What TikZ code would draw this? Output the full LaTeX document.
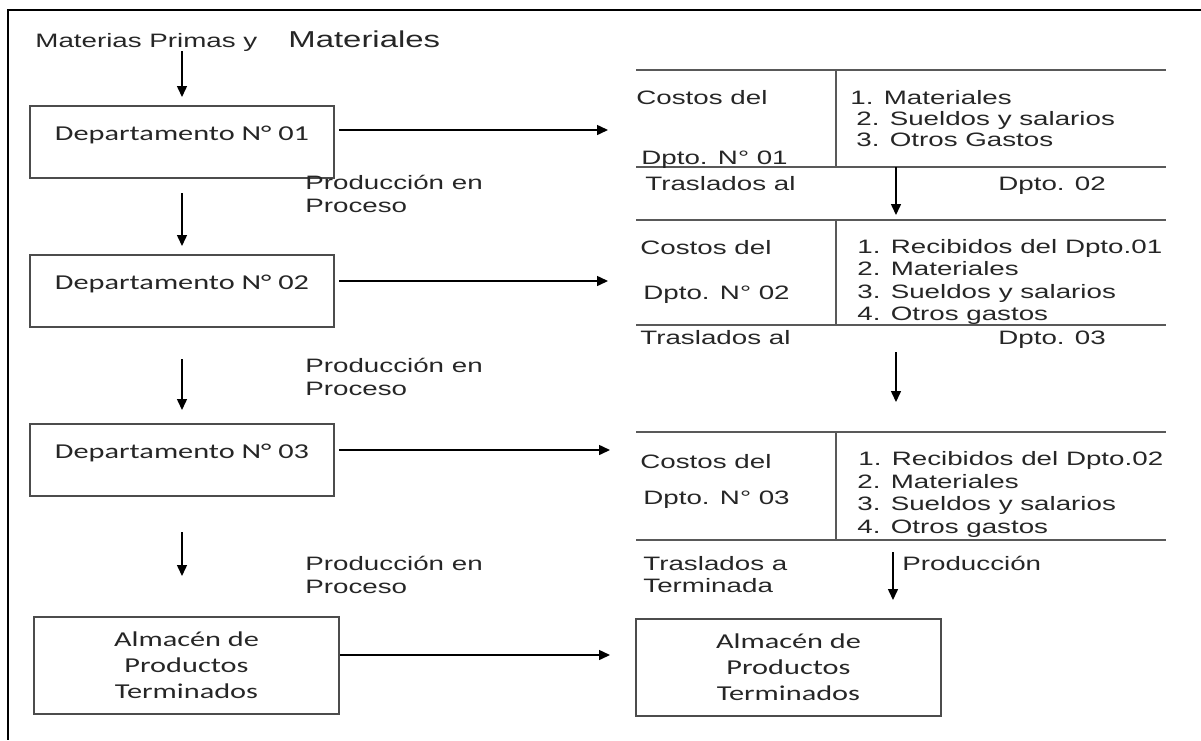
\documentclass[tikz,border=0pt]{standalone}
\usepackage{fontspec}
\setmainfont{Liberation Sans}[FakeStretch=1.43]
\newfontfamily\calfont{Carlito}[FakeStretch=1.43]
\usetikzlibrary{arrows.meta}

\begin{document}
\begin{tikzpicture}[
x = 0.5pt, y = -0.5pt,
every node/.style = {inner sep=0pt, text=black!85, font=\fontsize{9.7}{11.2}\selectfont},
dept/.style = {draw=black!70, line width=1pt, anchor=north, minimum width=152pt,
  text height=17pt, text depth=19pt, font=\calfont\fontsize{10.6}{13}\selectfont},
almacen/.style = {draw=black!70, line width=1pt, minimum width=152.5pt, minimum height=48.5pt,
  align=center, font=\calfont\fontsize{10.6}{13}\selectfont},
txt/.style = {anchor=west, align=left},
flecha/.style = {-{Triangle[length=5.5pt,width=5pt]}, line width=0.75pt},
cuenta/.style = {draw=black!65, line width=1pt}
]
\useasboundingbox (0,0) rectangle (1201,740);
\draw[line width=1pt] (1201,10) -- (8,10) -- (8,740);

\node[anchor=base west] (mp) at (35,47) {Materias Primas y};
\node[anchor=base west, font=\fontsize{11.5}{13}\selectfont] (mat) at (288,47) {Materiales};

\node[dept] (d1) at (182,105) {Departamento N° 01};
\node[dept] (d2) at (182,254) {Departamento N° 02};
\node[dept] (d3) at (182,423) {Departamento N° 03};
\node[almacen] (a1) at (186.5,665.5) {Almacén de\\Productos\\Terminados};
\node[almacen] (a2) at (788.5,667) {Almacén de\\Productos\\Terminados};

\node[txt] (p1) at (305,194) {Producción en\\Proceso};
\node[txt] (p2) at (305,377) {Producción en\\Proceso};
\node[txt] (p3) at (305,575) {Producción en\\Proceso};

\coordinate (e3) at (d3.south |- a1.north);
\draw[flecha] (mp.south -| d1.north) -- ([yshift=4pt]d1.north);
\draw[flecha] ([yshift=-7pt]d1.south) -- ([yshift=4pt]d2.north);
\draw[flecha] ([yshift=-15.5pt]d2.south) -- ([yshift=6.5pt]d3.north);
\draw[flecha] ([yshift=-17.5pt]d3.south) -- ([yshift=20pt]e3);

\coordinate (c1) at (608,130);
\coordinate (c2) at (608,281);
\coordinate (c3) at (610,450);
\coordinate (c4) at (610,655);
\draw[flecha, shorten <=2pt] (d1.east |- c1) -- (c1);
\draw[flecha, shorten <=2pt] (d2.east |- c2) -- (c2);
\draw[flecha, shorten <=2pt] (d3.east |- c3) -- (c3);
\draw[flecha] (a1.east |- c4) -- (c4);

\draw[cuenta] (636,70) -- (1166,70) (636,167) -- (1166,167) (836,70) -- (836,167);
\draw[cuenta] (636,220) -- (1166,220) (636,325) -- (1166,325) (836,220) -- (836,325);
\draw[cuenta] (636,432) -- (1166,432) (636,540) -- (1166,540) (836,432) -- (836,540);

\node[anchor=base west] (cd1) at (636,104) {Costos del};
\node[anchor=base west] (dp1) at (641,164) {Dpto. N° 01};
\node[txt, font=\fontsize{9.7}{10.3}\selectfont] (l1) at (850,118.5)
  {1. Materiales\\\hspace*{3pt}2. Sueldos y salarios\\\hspace*{3pt}3. Otros Gastos};
\node[anchor=base west] (tr1) at (645,190) {Traslados al};
\node[anchor=base west] (dt1) at (998,190) {Dpto. 02};

\node[anchor=base west] (cd2) at (640,254) {Costos del};
\node[anchor=base west] (dp2) at (643,299) {Dpto. N° 02};
\node[txt, font=\fontsize{9.7}{11.3}\selectfont] (l2) at (857,282)
  {1. Recibidos del Dpto.01\\2. Materiales\\3. Sueldos y salarios\\4. Otros gastos};
\node[anchor=base west] (tr2) at (640,344) {Traslados al};
\node[anchor=base west] (dt2) at (998,344) {Dpto. 03};

\node[anchor=base west] (cd3) at (640,468) {Costos del};
\node[anchor=base west] (dp3) at (643,504) {Dpto. N° 03};
\node[txt, font=\fontsize{9.7}{11.2}\selectfont] (l3) at (857,494.5)
  {\hspace*{0.5pt}1. Recibidos del Dpto.02\\2. Materiales\\3. Sueldos y salarios\\4. Otros gastos};
\node[txt] (tr3) at (643,574.5) {Traslados a\\Terminada};
\node[anchor=base west] (pr3) at (902,570) {Producción};

\coordinate (t1) at (896,167);
\coordinate (t2) at (896,215);
\coordinate (t3) at (896,352);
\coordinate (t4) at (896,402);
\coordinate (t5) at (893,552);
\coordinate (t6) at (893,600);
\draw[flecha] (t1) -- (t2);
\draw[flecha] (t3) -- (t4);
\draw[flecha] (t5) -- (t6);
\end{tikzpicture}
\end{document}
